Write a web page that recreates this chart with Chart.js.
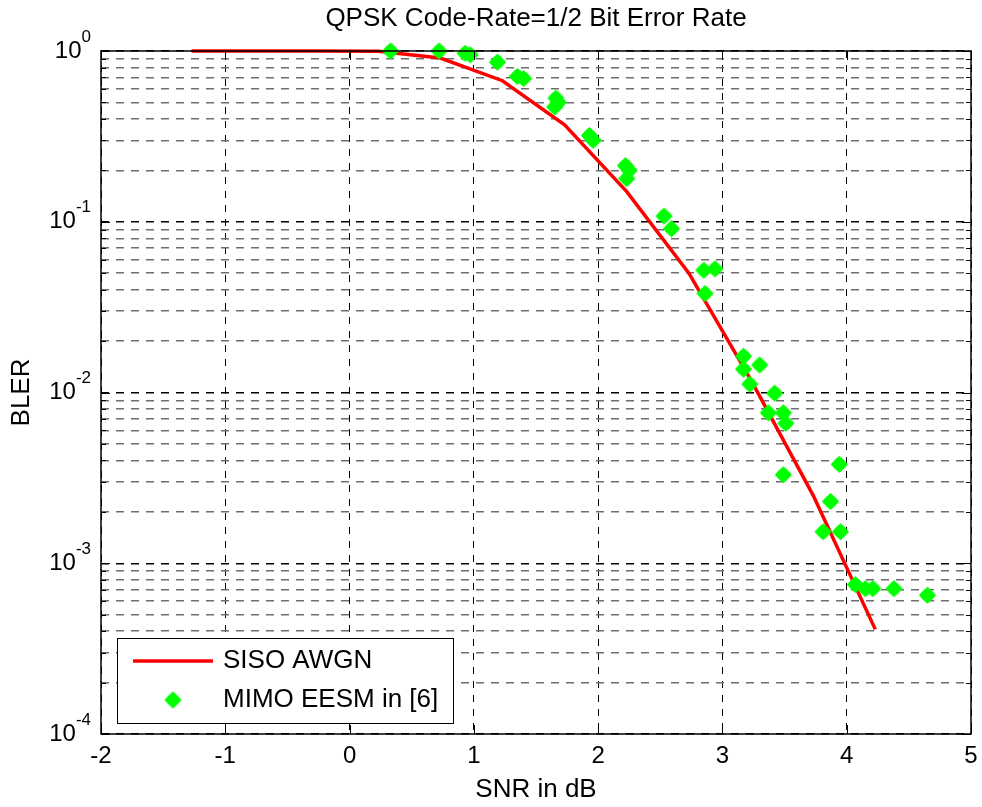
<!DOCTYPE html>
<html>
<head>
<meta charset="utf-8">
<script src="https://cdn.jsdelivr.net/npm/chart.js@4/dist/chart.umd.min.js"></script>
<style>
  html, body { margin: 0; padding: 0; background: #fff; }
  canvas { display: block; }
</style>
</head>
<body>
<canvas id="chart" width="982" height="807"></canvas>
<script>
// SISO AWGN curve (SNR dB -> BLER)
const snrSiso = [-1.27, -0.77, -0.27, 0.23, 0.73, 1.23, 1.73, 2.23, 2.73, 3.23, 3.73, 4.23];
const blerSiso = [1.0, 1.0, 1.0, 0.995, 0.91, 0.67, 0.37, 0.15, 0.05, 0.0118, 0.0025, 0.00041];

// MIMO EESM in [6] markers
const snrMimo = [0.33, 0.72, 0.93, 0.97, 1.19, 1.35, 1.40, 1.66, 1.65, 1.68, 1.93, 1.96,
  2.22, 2.23, 2.25, 2.53, 2.59, 2.85, 2.94, 2.86, 3.17, 3.17, 3.30, 3.22, 3.42, 3.37,
  3.49, 3.51, 3.49, 3.94, 3.87, 3.81, 3.95, 4.07, 4.15, 4.21, 4.38, 4.65];
const blerMimo = [1.0, 1.0, 0.97, 0.95, 0.86, 0.71, 0.69, 0.53, 0.47, 0.50, 0.32, 0.30,
  0.213, 0.179, 0.20, 0.108, 0.091, 0.052, 0.053, 0.038, 0.0163, 0.0137, 0.0145, 0.0112, 0.0099, 0.0076,
  0.0076, 0.0066, 0.0033, 0.0038, 0.0023, 0.00153, 0.00153, 0.00075, 0.00071, 0.00071, 0.00071, 0.00065];

const xTicks = [-2, -1, 0, 1, 2, 3, 4, 5];
const yDecades = [-4, -3, -2, -1, 0];

const FONT = '"Liberation Sans", Arial, sans-serif';

// green plus-diamond marker like the matlab one
function makeMarker() {
  const c = document.createElement('canvas');
  c.width = 19; c.height = 19;
  const g = c.getContext('2d');
  g.fillStyle = '#00ff00';
  g.beginPath();
  for (let i = 0; i < 8; i++) {
    const a = i * Math.PI / 4 - Math.PI / 2;
    const r = i % 2 ? 6.4 : 8.6;
    g.lineTo(9.5 + r * Math.cos(a), 9.5 + r * Math.sin(a));
  }
  g.closePath();
  g.fill();
  return c;
}
const marker = makeMarker();

const isDecade = v => Math.abs(Math.log10(v) - Math.round(Math.log10(v))) < 1e-6;

// frame, inward ticks, y labels with exponents, titles, legend
const decorations = {
  id: 'decorations',
  afterDraw(chart) {
    const { ctx, chartArea: a, scales } = chart;
    ctx.save();
    ctx.strokeStyle = '#000';
    ctx.lineWidth = 1;
    ctx.setLineDash([]);
    ctx.beginPath();
    scales.y.ticks.forEach(t => {
      const y = Math.round(scales.y.getPixelForValue(t.value)) + 0.5;
      const len = isDecade(t.value) ? 9 : 5;
      ctx.moveTo(a.left, y); ctx.lineTo(a.left + len, y);
      ctx.moveTo(a.right, y); ctx.lineTo(a.right - len, y);
    });
    scales.x.ticks.forEach(t => {
      const x = Math.round(scales.x.getPixelForValue(t.value)) + 0.5;
      ctx.moveTo(x, a.bottom); ctx.lineTo(x, a.bottom - 9);
      ctx.moveTo(x, a.top); ctx.lineTo(x, a.top + 9);
    });
    ctx.stroke();
    ctx.lineWidth = 1.5;
    ctx.strokeRect(a.left, a.top, a.right - a.left, a.bottom - a.top);

    // y labels 10^n
    ctx.fillStyle = '#000';
    ctx.textBaseline = 'middle';
    yDecades.forEach(e => {
      const y = scales.y.getPixelForValue(Math.pow(10, e));
      const exp = String(e);
      ctx.font = '17px ' + FONT;
      const ew = ctx.measureText(exp).width;
      const right = a.left - 10;
      ctx.textAlign = 'left';
      ctx.fillText(exp, right - ew, y - 14);
      ctx.font = '24px ' + FONT;
      ctx.textAlign = 'right';
      ctx.fillText('10', right - ew, y);
    });

    // titles
    ctx.textAlign = 'center';
    ctx.font = '26px ' + FONT;
    ctx.fillText('QPSK Code-Rate=1/2 Bit Error Rate', (a.left + a.right) / 2, 19);
    ctx.fillText('SNR in dB', (a.left + a.right) / 2, 790);
    ctx.save();
    ctx.translate(22, (a.top + a.bottom) / 2);
    ctx.rotate(-Math.PI / 2);
    ctx.fillText('BLER', 0, 0);
    ctx.restore();

    // legend
    const lx = 117, ly = 638, lw = 336, lh = 85;
    ctx.fillStyle = '#fff';
    ctx.fillRect(lx, ly, lw, lh);
    ctx.lineWidth = 1;
    ctx.strokeStyle = '#000';
    ctx.strokeRect(lx + 0.5, ly + 0.5, lw, lh);
    ctx.strokeStyle = '#ff0000';
    ctx.lineWidth = 3.5;
    ctx.beginPath();
    ctx.moveTo(lx + 16, ly + 23); ctx.lineTo(lx + 96, ly + 23);
    ctx.stroke();
    ctx.drawImage(marker, lx + 56 - 9.5, ly + 62 - 9.5);
    ctx.fillStyle = '#000';
    ctx.textAlign = 'left';
    ctx.font = '26px ' + FONT;
    ctx.fillText('SISO AWGN', lx + 106, ly + 23);
    ctx.fillText('MIMO EESM in [6]', lx + 106, ly + 62);
    ctx.restore();
  }
};

new Chart(document.getElementById('chart'), {
  type: 'line',
  data: {
    datasets: [
      {
        label: 'SISO AWGN',
        data: snrSiso.map((x, i) => ({ x, y: blerSiso[i] })),
        borderColor: '#ff0000',
        borderWidth: 3.5,
        pointRadius: 0,
        tension: 0,
        clip: false,
        order: 2
      },
      {
        label: 'MIMO EESM in [6]',
        data: snrMimo.map((x, i) => ({ x, y: blerMimo[i] })),
        showLine: false,
        pointStyle: marker,
        pointRadius: 9,
        clip: false,
        order: 1
      }
    ]
  },
  options: {
    responsive: false,
    animation: false,
    layout: { padding: { top: 51, right: 11, left: 0, bottom: 0 } },
    plugins: {
      legend: { display: false },
      title: { display: false },
      tooltip: { enabled: false }
    },
    scales: {
      x: {
        type: 'linear',
        min: -2,
        max: 5,
        afterBuildTicks: s => { s.ticks = xTicks.map(v => ({ value: v })); },
        afterFit: s => { s.height = 73; s.paddingLeft = 0; s.paddingRight = 0; },
        ticks: { color: '#000', font: { family: FONT, size: 24 }, padding: 8 },
        grid: { color: '#000', lineWidth: 1, drawTicks: false },
        border: { display: false, dash: [7, 7] }
      },
      y: {
        type: 'logarithmic',
        min: 1e-4,
        max: 1,
        afterBuildTicks: s => {
          const t = [];
          yDecades.forEach(e => {
            for (let m = 1; m <= 9; m++) {
              const v = m * Math.pow(10, e);
              if (v <= 1 + 1e-9) t.push({ value: v });
            }
          });
          s.ticks = t;
        },
        afterFit: s => { s.width = 101; },
        ticks: { display: false },
        grid: {
          color: c => isDecade(c.tick.value) ? '#000' : '#6e6e6e',
          lineWidth: 1.5,
          drawTicks: false
        },
        border: { display: false, dash: [8, 7] }
      }
    }
  },
  plugins: [decorations]
});
</script>
</body>
</html>
